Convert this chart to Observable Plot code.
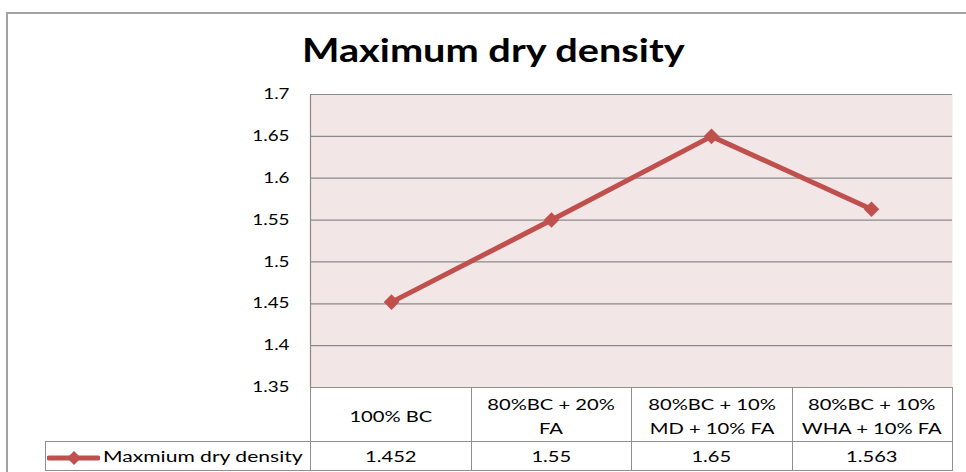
<!DOCTYPE html>
<html>
<head>
<meta charset="utf-8">
<script src="https://cdn.jsdelivr.net/npm/d3@7"></script>
<script src="https://cdn.jsdelivr.net/npm/@observablehq/plot@0.6"></script>
<style>
  html, body { margin: 0; padding: 0; background: #fff; overflow: hidden; }
  #root { position: relative; width: 966px; height: 472px; overflow: hidden; font-family: Lato, "Open Sans", sans-serif; }
  #outer { position: absolute; left: 6px; top: 12px; width: 1000px; height: 520px; border: 2px solid #a3a3a3; box-sizing: border-box; }
  #title { position: absolute; left: 0; top: 31px; width: 986px; text-align: center; font-weight: 700; font-size: 32px; line-height: 38px; color: #000; }
  .sx { display: inline-block; transform: scaleX(1.24); transform-origin: 50% 50%; }
  #chart { position: absolute; left: 0; top: 84px; }
  #table { position: absolute; left: 45px; top: 387px; border-collapse: collapse; table-layout: fixed; font-size: 15.5px; color: #000; }
  #table td { border: 1px solid #8f8f8f; text-align: center; padding: 0; white-space: pre-line; }
  #table td .sx { transform: scaleX(1.3); }
  #table tr.head td { height: 50px; padding-top: 3px; line-height: 24px; }
  #table tr.vals td { height: 28px; line-height: 28px; }
  #table td.blank { border-top: none; border-left: none; border-bottom: 1px solid #8f8f8f; }
  #table td.legend { text-align: left; white-space: nowrap; font-size: 15.5px; }
  #table td.legend .sx { transform-origin: 0 50%; transform: scaleX(1.36); }
  #table td.legend svg { vertical-align: middle; margin-right: 3px; margin-left: 1px; }
</style>
</head>
<body>
<div id="root">
  <div id="outer"></div>
  <div id="title"></div>
  <div id="chart"></div>
  <table id="table"></table>
</div>
<script>
const title = "Maximum dry density";
const seriesName = "Maxmium dry density";
const categories = ["100% BC", "80%BC + 20% FA", "80%BC + 10% MD + 10% FA", "80%BC + 10% WHA + 10% FA"];
const categoryLabels = ["100% BC", "80%BC + 20%\nFA", "80%BC + 10%\nMD + 10% FA", "80%BC + 10%\nWHA + 10% FA"];
const values = [1.452, 1.55, 1.65, 1.563];
const valueLabels = ["1.452", "1.55", "1.65", "1.563"];
const yTicks = [1.35, 1.4, 1.45, 1.5, 1.55, 1.6, 1.65, 1.7];

const data = categories.map((c, i) => ({cat: c, val: values[i]}));
const red = "#C0504D";
const gridColor = "#8a8a8a";

function scaled(text) {
  const s = document.createElement("span");
  s.className = "sx";
  s.textContent = text;
  return s;
}

document.getElementById("title").appendChild(scaled(title));

const chart = Plot.plot({
  width: 966,
  height: 304,
  marginLeft: 310,
  marginRight: 14,
  marginTop: 10,
  marginBottom: 1,
  style: {fontFamily: "Lato, 'Open Sans', sans-serif", fontSize: "14px", color: "#000", background: "transparent", overflow: "visible"},
  x: {type: "point", domain: categories, padding: 0.5, axis: null},
  y: {domain: [1.35, 1.7], axis: null},
  marks: [
    Plot.frame({fill: "#F2E6E6", stroke: "none"}),
    Plot.gridY(yTicks, {stroke: gridColor, strokeOpacity: 1, strokeWidth: 1.2}),
    Plot.frame({anchor: "left", stroke: gridColor, strokeWidth: 1.2}),
    Plot.axisY(yTicks, {tickSize: 0, tickPadding: 21, label: null, tickFormat: d => String(d), fontSize: 14.5, fill: "#000"}),
    Plot.line(data, {x: "cat", y: "val", stroke: red, strokeWidth: 5, strokeLinejoin: "miter"}),
    Plot.dot(data, {x: "cat", y: "val", symbol: "diamond2", r: 7, fill: red, stroke: "none"})
  ]
});
document.getElementById("chart").appendChild(chart);

// stretch tick labels horizontally about their right edge, as in the reference
d3.select(chart).selectAll("g[aria-label='y-axis tick label'] text").each(function() {
  const bb = this.getBBox();
  const r = bb.x + bb.width;
  const t = this.getAttribute("transform") || "";
  this.setAttribute("transform", `${t} translate(${r},0) scale(1.3,1) translate(${-r},0)`);
});

// data table below the plot
const table = document.getElementById("table");
const colgroup = document.createElement("colgroup");
const c0 = document.createElement("col"); c0.style.width = "265px"; colgroup.appendChild(c0);
categories.forEach(() => { const c = document.createElement("col"); c.style.width = "160.5px"; colgroup.appendChild(c); });
table.appendChild(colgroup);

const head = document.createElement("tr"); head.className = "head";
const blank = document.createElement("td"); blank.className = "blank"; head.appendChild(blank);
categoryLabels.forEach(l => { const td = document.createElement("td"); td.appendChild(scaled(l)); head.appendChild(td); });
table.appendChild(head);

const vals = document.createElement("tr"); vals.className = "vals";
const leg = document.createElement("td"); leg.className = "legend";
leg.innerHTML = `<svg width="53" height="14" viewBox="0 0 53 14"><line x1="2" y1="7" x2="51" y2="7" stroke="${red}" stroke-width="5" stroke-linecap="round"/><path d="M27,0 L34,7 L27,14 L20,7 Z" fill="${red}"/></svg>`;
leg.appendChild(scaled(seriesName));
vals.appendChild(leg);
valueLabels.forEach(v => { const td = document.createElement("td"); td.appendChild(scaled(v)); vals.appendChild(td); });
table.appendChild(vals);
</script>
</body>
</html>
